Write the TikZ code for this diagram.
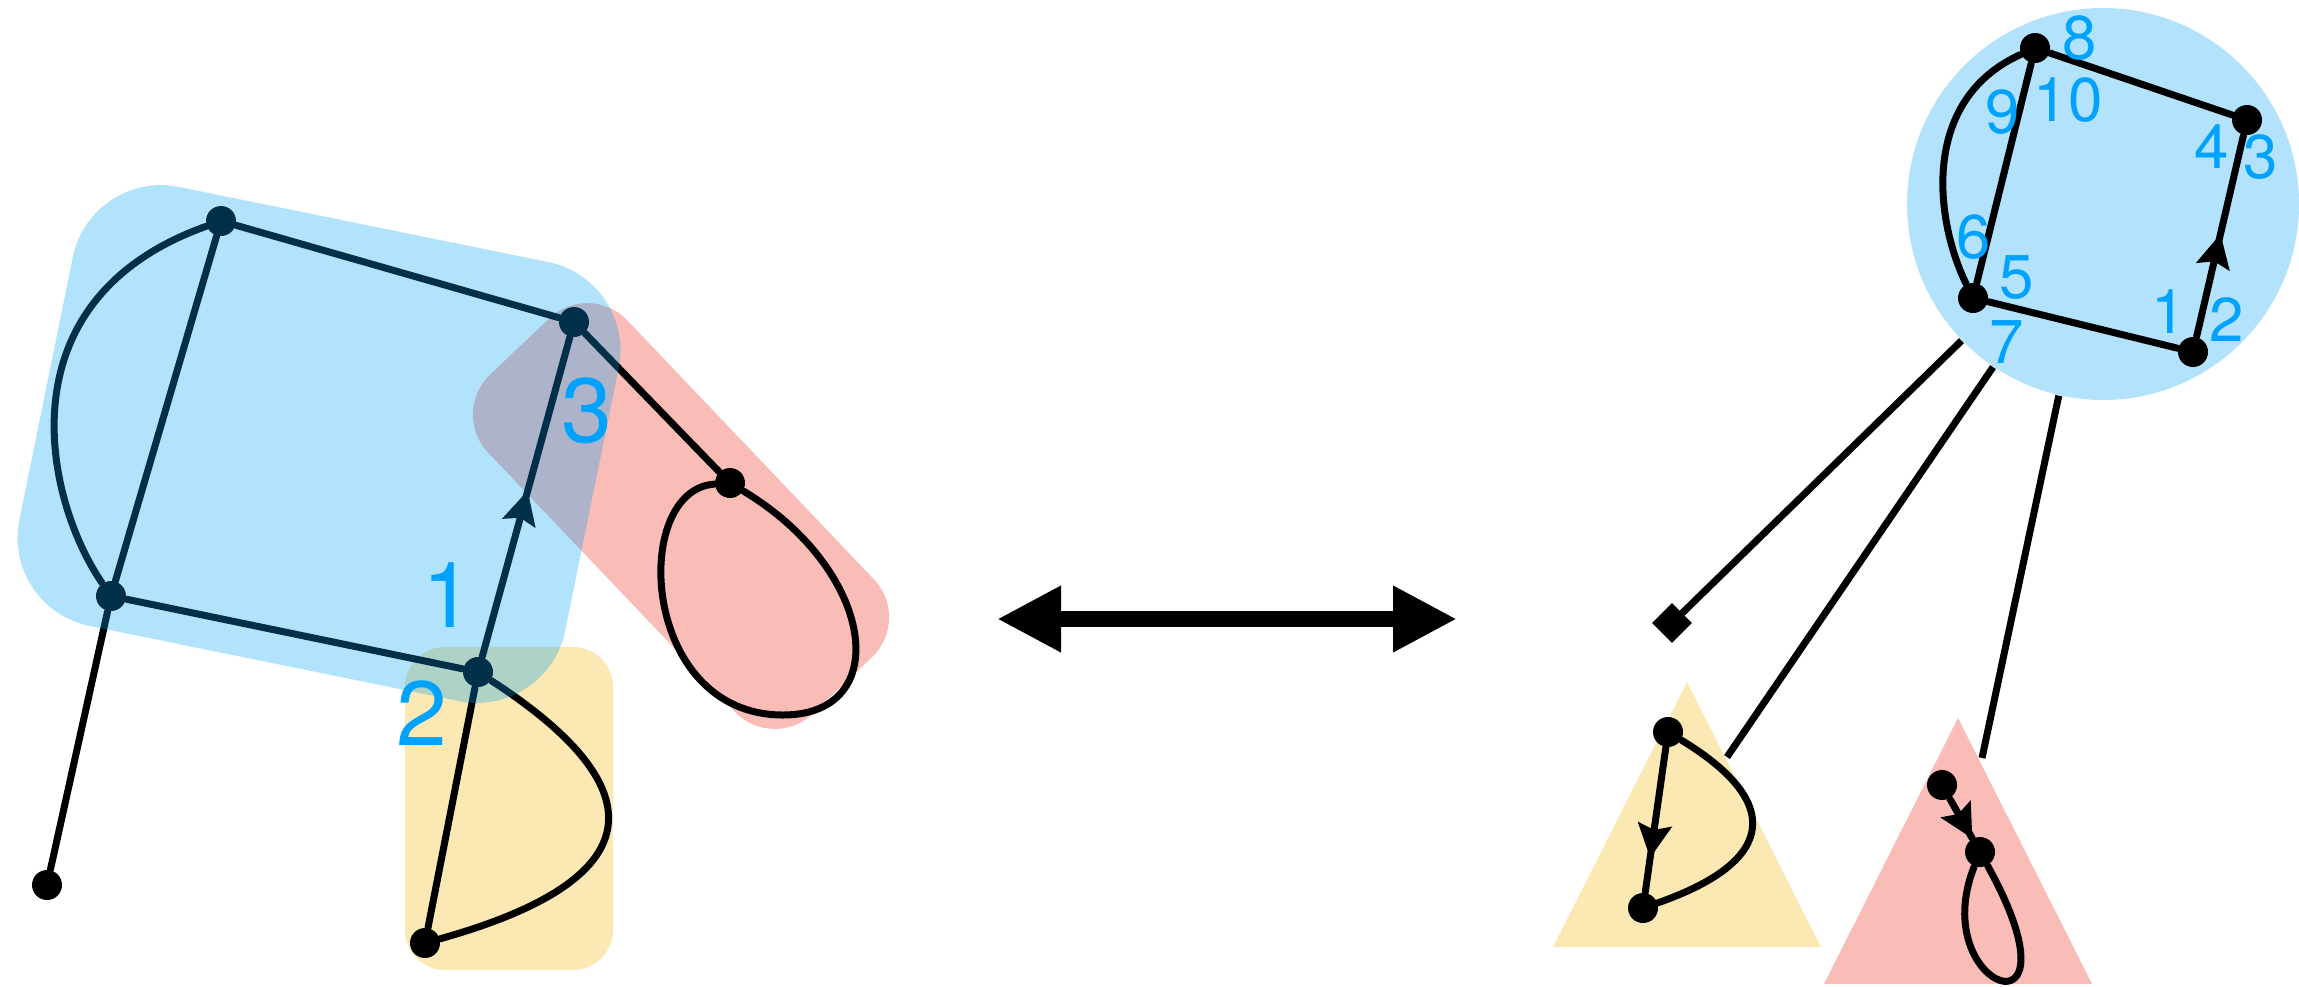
\documentclass[tikz,border=0pt]{standalone}
\usepackage{fontspec}
\setmainfont{TeX Gyre Heros}
\usetikzlibrary{arrows.meta, decorations.markings, shapes.geometric}

\definecolor{lblue}{RGB}{0,162,255}
\definecolor{blobblue}{RGB}{0,162,245}
\definecolor{circblue}{RGB}{179,227,252}
\definecolor{pinkf}{RGB}{249,188,183}
\definecolor{yellowf}{RGB}{252,232,178}

\begin{document}
\begin{tikzpicture}[x=0.1mm, y=-0.1mm,
  gdot/.style={circle, fill=black, minimum size=3.0mm, inner sep=0pt},
  link/.style={line width=0.7mm, draw=black, line cap=round, line join=round},
  midarrow/.style={postaction={decorate, decoration={markings, mark=at position #1 with {\fill[black] (0pt,0pt) -- (-3.4mm,1.75mm) -- (-2.8mm,0pt) -- (-3.4mm,-1.75mm) -- cycle;}}}},
  bignum/.style={text=lblue, inner sep=0pt, font=\fontsize{26pt}{26pt}\selectfont},
  smallnum/.style={text=lblue, inner sep=0pt, font=\fontsize{17.6pt}{17.6pt}\selectfont},
]
\useasboundingbox (0,0) rectangle (2299,986);

% ---------- left: background blobs ----------
\node[fill=pinkf, rounded corners=5.5mm, minimum width=46.8mm, minimum height=19.2mm, rotate=-46.4, inner sep=0pt] (redblob) at (681,516) {};
\node[fill=yellowf, rounded corners=4mm, minimum width=20.8mm, minimum height=32.3mm, inner sep=0pt] (yelblob) at (509,808.5) {};

% ---------- left: graph ----------
\node[gdot] (A) at (221,221) {};
\node[gdot] (D) at (574,322) {};
\node[gdot] (B) at (111,596) {};
\node[gdot] (C) at (478,672) {};
\node[gdot] (E) at (730,483) {};
\node[gdot] (F) at (47,885) {};
\node[gdot] (G) at (425,943) {};

\draw[link] (A) -- (D);
\draw[link] (A) -- (B);
\draw[link] (A) .. controls (0,300) and (45,500) .. (B);
\draw[link] (B) -- (C);
\draw[link, midarrow=0.52] (C) -- (D);
\draw[link] (D) -- (E);
\draw[link] (E) .. controls (630,490) and (640,715) .. (783,715) .. controls (895,715) and (875,570) .. (E);
\draw[link] (B) -- (F);
\draw[link] (C) -- (G);
\draw[link] (C) .. controls (660,790) and (650,880) .. (G);

% ---------- left: blue overlay ----------
\node[fill=blobblue, fill opacity=0.3, rounded corners=9mm, minimum width=55.7mm, minimum height=44.8mm, rotate=-11.5, inner sep=0pt] (blueblob) at (319,444) {};

\node[bignum] (l3) at (587,411) {3};
\node[bignum] (l1) at (448,595) {1};
\node[bignum] (l2) at (422,713) {2};

% ---------- middle: double arrow ----------
\coordinate (dl) at (997,619);
\coordinate (dr) at (1457,619);
\draw[line width=1.6mm, {Triangle[length=6.4mm,width=6.2mm]}-{Triangle[length=6.4mm,width=6.2mm]}] (dl) -- (dr);

% ---------- right: tree ----------
\node[circle, fill=circblue, minimum size=39.2mm, inner sep=0pt] (circ) at (2103,204) {};
\fill[yellowf] (1687,682) -- (1821,947) -- (1553,947) -- cycle;
\fill[pinkf] (1958,718) -- (2092,984) -- (1824,984) -- cycle;

\node[gdot] (n8) at (2035,48) {};
\node[gdot] (n43) at (2247,120) {};
\node[gdot] (n567) at (1973,298) {};
\node[gdot] (n12) at (2193,352) {};
\node[gdot] (y1) at (1668,732) {};
\node[gdot] (y2) at (1643,908) {};
\node[gdot] (r1) at (1942,785) {};
\node[gdot] (r2) at (1980,852) {};
\node[fill=black, rotate=45, minimum size=2.8mm, inner sep=0pt] (dia) at (1672,623) {};
\coordinate (ytop) at (1727,757);
\coordinate (rtop) at (1982,758);

\draw[link] (n8) -- (n43);
\draw[link] (n8) -- (n567);
\draw[link] (n8) .. controls (1920,100) and (1935,220) .. (n567);
\draw[link] (n567) -- (n12);
\draw[link, midarrow=0.51] (n12) -- (n43);

\draw[link, line cap=butt] (circ.224) -- (dia.center);
\draw[link, line cap=butt] (circ.236) -- (ytop);
\draw[link, line cap=butt] (circ.257.3) -- (rtop);

\draw[link, midarrow=0.76] (y1) -- (y2);
\draw[link] (y1) .. controls (1780,800) and (1780,860) .. (y2);
\draw[link, midarrow=1] (r1) -- (r2);
\draw[link] (r2) .. controls (1925,990) and (2088,1047) .. (r2);

\node[smallnum] (t8) at (2080,38) {8};
\node[smallnum] (t9) at (2003,112) {9};
\node[smallnum] (t10) at (2068,100) {10};
\node[smallnum] (t4) at (2212,147) {4};
\node[smallnum] (t3) at (2261,157) {3};
\node[smallnum] (t6) at (1974,237) {6};
\node[smallnum] (t5) at (2017,277) {5};
\node[smallnum] (t7) at (2007,342) {7};
\node[smallnum] (t1) at (2169,312) {1};
\node[smallnum] (t2) at (2227,320) {2};
\end{tikzpicture}
\end{document}
